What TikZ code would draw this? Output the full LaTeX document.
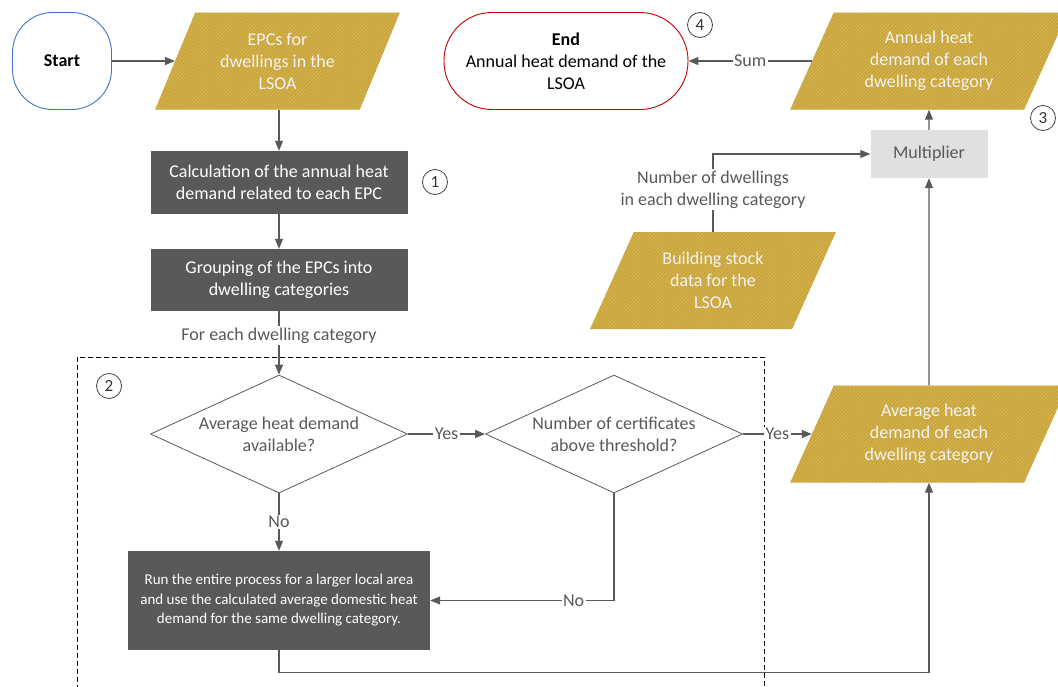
\documentclass[tikz,border=0pt]{standalone}
\usepackage{fontspec}
\setmainfont{Carlito}
\usetikzlibrary{arrows.meta, positioning, shapes.geometric, patterns.meta}
\definecolor{linegray}{HTML}{595959}
\definecolor{boxgray}{HTML}{595959}
\definecolor{multgray}{HTML}{E0E0E0}
\definecolor{epcgold}{HTML}{C8A43C}
\definecolor{hatchgold}{HTML}{D8B955}
\definecolor{startblue}{HTML}{4472C4}
\definecolor{endred}{HTML}{C00000}

\tikzset{
    every node/.style={font=\fontsize{18}{22}\selectfont},
    terminal/.style={draw, rectangle, align=center, minimum height=97pt, line width=0.9pt},
    iobox/.style={trapezium, trapezium left angle=63.7, trapezium right angle=116.3,
        trapezium stretches, minimum height=97pt, inner sep=0pt, align=center,
        fill=epcgold, text=white!95!black,
        postaction={pattern={Lines[angle=45, distance=2.6pt, line width=0.7pt]}, pattern color=hatchgold}},
    process/.style={rectangle, fill=boxgray, text=white, align=center, minimum width=257pt},
    decision/.style={diamond, draw=linegray, text=linegray, aspect=2.18, inner sep=0pt,
        minimum width=257pt, minimum height=118pt, align=center, line width=0.8pt},
    stepno/.style={circle, draw=black!75, minimum size=25pt, inner sep=0pt, line width=0.8pt,
        font=\fontsize{17}{17}\selectfont, text=black!80},
    flow/.style={draw=linegray, line width=1.1pt, -{Triangle[length=10pt, width=8pt]}},
    flowlabel/.style={fill=white, text=linegray, inner sep=1.5pt}
}

\begin{document}
\begin{tikzpicture}[x=1pt, y=-1pt]
    \useasboundingbox (0,0) rectangle (1058,686);

    % Iteration frame
    \draw[dashed, dash pattern=on 5pt off 3pt, line width=0.8pt] (77,690) -- (77,357) -- (764,357) -- (764,690);

    % Inputs and terminals
    \node[terminal, draw=startblue, rounded corners=40pt, minimum width=99pt] (start) at (62,61) {\textbf{Start}};
    \node[iobox, minimum width=245pt] (epc) at (277.5,61) {EPCs for\\dwellings in the\\LSOA};
    \node[terminal, draw=endred, rounded corners=48pt, minimum width=244pt] (endn) at (566,61) {\textbf{End}\\Annual heat demand of the\\LSOA};
    \node[iobox, minimum width=278pt] (annual) at (929,61) {Annual heat\\demand of each\\dwelling category};

    % Processing steps
    \node[process, minimum height=63pt] (calc) at (279,182.5) {Calculation of the annual heat\\demand related to each EPC};
    \node[process, minimum height=62pt] (group) at (279,280) {Grouping of the EPCs into\\dwelling categories};
    \node[fill=multgray, text=linegray, minimum width=117pt, minimum height=48pt] (mult) at (929,154) {Multiplier};
    \node[iobox, minimum width=246pt] (stock) at (713,280.5) {Building stock\\data for the\\LSOA};

    % Decisions
    \node[decision] (avail) at (279,434) {Average heat demand\\available?};
    \node[decision] (thres) at (614,434) {Number of certificates\\above threshold?};
    \node[iobox, minimum width=278pt] (avg) at (929,434) {Average heat\\demand of each\\dwelling category};
    \node[process, minimum width=302pt, minimum height=99pt, font=\fontsize{15}{19.5}\selectfont] (larger) at (279,600.5)
        {Run the entire process for a larger local area\\and use the calculated average domestic heat\\demand for the same dwelling category.};

    % Step numbers
    \node[stepno] (s1) at (435,182) {1};
    \node[stepno] (s2) at (109,386) {2};
    \node[stepno] (s3) at (1043,118) {3};
    \node[stepno] (s4) at (700,25) {4};

    % Connectors
    \draw[flow] (start.east) -- (epc.left side);
    \draw[flow] (epc.south -| calc.north) -- (calc.north);
    \draw[flow] (calc) -- (group);
    \draw[flow] (group) -- node[flowlabel, pos=0.38] {For each dwelling category} (avail);
    \draw[flow] (avail) -- node[flowlabel] {Yes} (thres);
    \draw[flow] (thres) -- node[flowlabel] {Yes} (avg.left side);
    \draw[flow] (avail) -- node[flowlabel] {No} (larger);
    \draw[flow] (thres.south) |- node[flowlabel, pos=0.61] {No} (larger.east);
    \draw[flow] (larger.south) -- ++(0,22) -| (avg.south);
    \draw[flow] (avg.north) -- (mult.south);
    \draw[flow] (mult.north) -- (annual.south);
    \draw[flow] (stock.north) |- node[flowlabel, pos=0.27, align=center] {Number of dwellings\\in each dwelling category} (mult.west);
    \draw[flow] (annual.left side) -- node[flowlabel] {Sum} (endn.east);
\end{tikzpicture}
\end{document}
